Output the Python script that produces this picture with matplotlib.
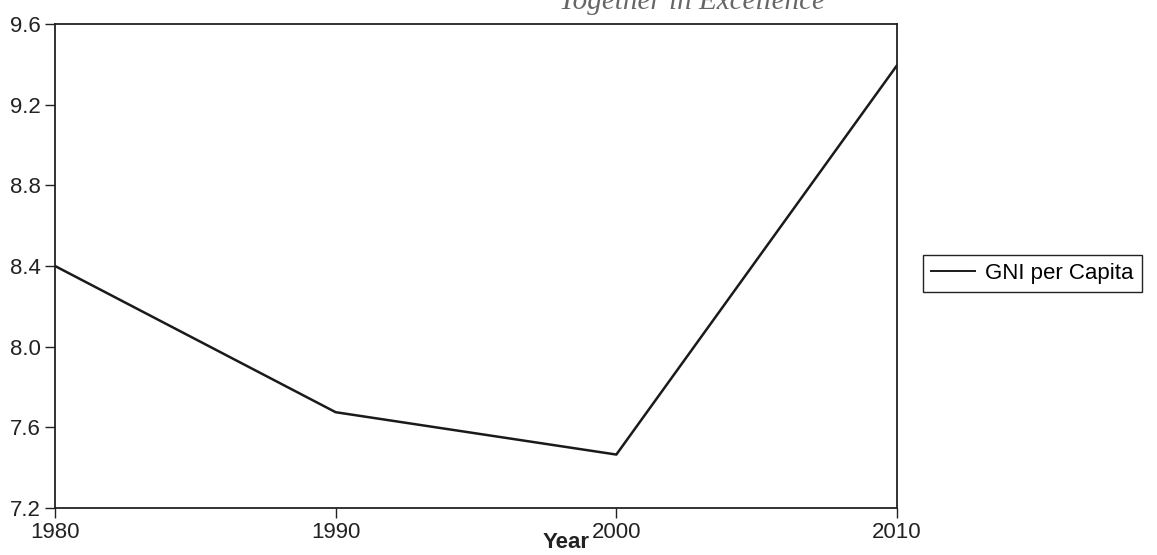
import matplotlib
matplotlib.use("Agg")
import matplotlib.pyplot as plt
from matplotlib.lines import Line2D

years = [1980, 1990, 2000, 2010]
gni_per_capita = [8.40, 7.675, 7.465, 9.395]
y_ticks = [7.2, 7.6, 8.0, 8.4, 8.8, 9.2, 9.6]
y_tick_labels = ["7.2", "7.6", "8.0", "8.4", "8.8", "9.2", "9.6"]
x_ticks = [1980, 1990, 2000, 2010]

plt.rcParams['font.family'] = ['Liberation Sans', 'DejaVu Sans']

W, H = 1157, 555
FS = 16
fig = plt.figure(figsize=(W / 100, H / 100), dpi=100)
ax = fig.add_axes([55 / W, 1 - 508 / H, (897 - 55) / W, (508 - 24) / H])

ax.plot(years, gni_per_capita, color='#1a1a1a', linewidth=1.8, label='GNI per Capita')
ax.set_xlim(1980, 2010)
ax.set_ylim(7.2, 9.6)
ax.set_yticks(y_ticks)
ax.set_yticklabels(y_tick_labels)
ax.set_xticks(x_ticks)
ax.set_xticklabels([str(x) for x in x_ticks])
ax.tick_params(axis='both', direction='out', length=7, width=1.0, labelsize=FS, colors='#222222')
ax.tick_params(axis='y', pad=3)
ax.tick_params(axis='x', pad=3)
for s in ax.spines.values():
    s.set_linewidth(1.3)
    s.set_color('#222222')

fig.text(566 / W, 1 - 542 / H, 'Year', fontsize=FS, fontweight='bold', ha='center', va='center', color='#222222')

fig.text(692 / W, 1 - 9 / H, 'Together in Excellence', fontsize=21, style='italic',
         family=['Liberation Serif', 'DejaVu Serif'], color='#666666', ha='center', va='baseline')

handle = Line2D([], [], color='#1a1a1a', linewidth=1.4)
leg = fig.legend([handle], ['GNI per Capita'], loc='upper left',
                 bbox_to_anchor=(923 / W, 1 - 255 / H), borderaxespad=0,
                 fancybox=False, edgecolor='#222222', framealpha=1,
                 fontsize=FS, handlelength=2.0, handletextpad=0.45,
                 borderpad=0.35)
leg.get_frame().set_linewidth(1.0)

fig.savefig('out.png', dpi=100)
